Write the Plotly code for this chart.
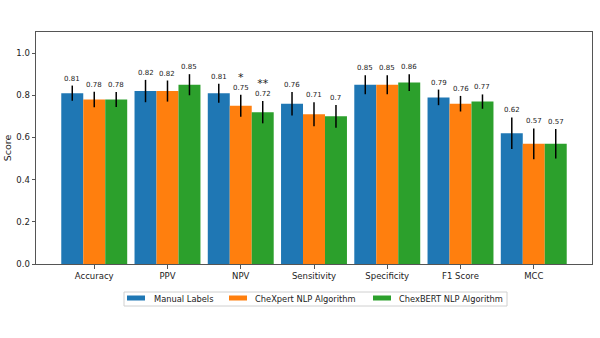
import plotly.graph_objects as go

categories = ["Accuracy", "PPV", "NPV", "Sensitivity", "Specificity", "F1 Score", "MCC"]
series_names = ["Manual Labels", "CheXpert NLP Algorithm", "ChexBERT NLP Algorithm"]
manual = [0.81, 0.82, 0.81, 0.76, 0.85, 0.79, 0.62]
chexpert = [0.78, 0.82, 0.75, 0.71, 0.85, 0.76, 0.57]
chexbert = [0.78, 0.85, 0.72, 0.70, 0.86, 0.77, 0.57]
manual_err = [0.036, 0.053, 0.045, 0.056, 0.045, 0.037, 0.075]
chexpert_err = [0.037, 0.050, 0.052, 0.057, 0.045, 0.037, 0.073]
chexbert_err = [0.036, 0.050, 0.053, 0.054, 0.040, 0.034, 0.070]
# significance markers: (series index, category index, text)
markers = [(1, 2, "*"), (2, 2, "**")]

colors = ["#1f77b4", "#ff7f0e", "#2ca02c"]
values = [manual, chexpert, chexbert]
errors = [manual_err, chexpert_err, chexbert_err]
offsets = [-0.3, 0.0, 0.3]
font = "DejaVu Sans"

W, H = 600, 338
M_L, M_R, M_T, M_B = 36, 8, 32, 74
PLOT_W = W - M_L - M_R
PLOT_H = H - M_T - M_B


def px_x(px):
    """Horizontal pixel -> paper coordinate."""
    return (px - M_L) / PLOT_W


def px_y(py):
    """Vertical pixel (from top) -> paper coordinate."""
    return (H - M_B - py) / PLOT_H


x = list(range(len(categories)))
fig = go.Figure()
for name, vals, errs, col in zip(series_names, values, errors, colors):
    fig.add_trace(go.Bar(
        x=x, y=vals, name=name, marker=dict(color=col, line=dict(width=0)),
        error_y=dict(type="data", array=errs, visible=True, color="black",
                     thickness=1.5, width=0),
        showlegend=False,
    ))

star_of = {(s, i): txt for s, i, txt in markers}
annotations = []
for s, (vals, errs) in enumerate(zip(values, errors)):
    for i, (v, e) in enumerate(zip(vals, errs)):
        label = f"{v:g}"
        if (s, i) in star_of:
            # significance stars stacked above the value label
            label = f"<span style='font-size:11px'>{star_of[(s, i)]}</span><br>{label}"
        annotations.append(dict(
            x=i + offsets[s], y=v + e, xref="x", yref="y", text=label,
            showarrow=False, yanchor="bottom", yshift=1,
            font=dict(family=font, size=7, color="#222"),
        ))

# Legend drawn below the axes: a framed row of wide swatches with labels
shapes = [dict(
    type="rect", xref="paper", yref="paper",
    x0=px_x(124), x1=px_x(507), y0=px_y(306), y1=px_y(292),
    line=dict(color="#d0d0d0", width=1), fillcolor="white", layer="below",
)]
swatch_x = [127, 229, 373]
label_x = [152, 253, 397]
for name, col, sx, lx in zip(series_names, colors, swatch_x, label_x):
    shapes.append(dict(
        type="rect", xref="paper", yref="paper",
        x0=px_x(sx), x1=px_x(sx + 18), y0=px_y(300.5), y1=px_y(295.5),
        line=dict(width=0), fillcolor=col,
    ))
    annotations.append(dict(
        x=px_x(lx), y=px_y(299), xref="paper", yref="paper", text=name,
        showarrow=False, xanchor="left", yanchor="middle",
        font=dict(family=font, size=8.3, color="#222"),
    ))

fig.update_layout(
    width=W, height=H,
    margin=dict(l=M_L, r=M_R, t=M_T, b=M_B),
    paper_bgcolor="white", plot_bgcolor="white",
    barmode="group", bargap=0.1, bargroupgap=0,
    font=dict(family=font, size=8.5, color="#222"),
    annotations=annotations,
    shapes=shapes,
    showlegend=False,
    xaxis=dict(
        range=[-0.795, 6.795], tickmode="array", tickvals=x, ticktext=categories,
        showgrid=False, zeroline=False, showline=True, linecolor="#555",
        linewidth=1, mirror=True, ticks="outside", ticklen=3.5, tickcolor="#555",
        tickfont=dict(size=8.5),
    ),
    yaxis=dict(
        range=[0, 1.1], dtick=0.2, tickformat=".1f",
        showgrid=False, zeroline=False, showline=True, linecolor="#555",
        linewidth=1, mirror=True, ticks="outside", ticklen=3.5, tickcolor="#555",
        title=dict(text="Score", font=dict(size=9.5), standoff=2),
        tickfont=dict(size=8.5),
    ),
)

fig.write_html("out.html")
